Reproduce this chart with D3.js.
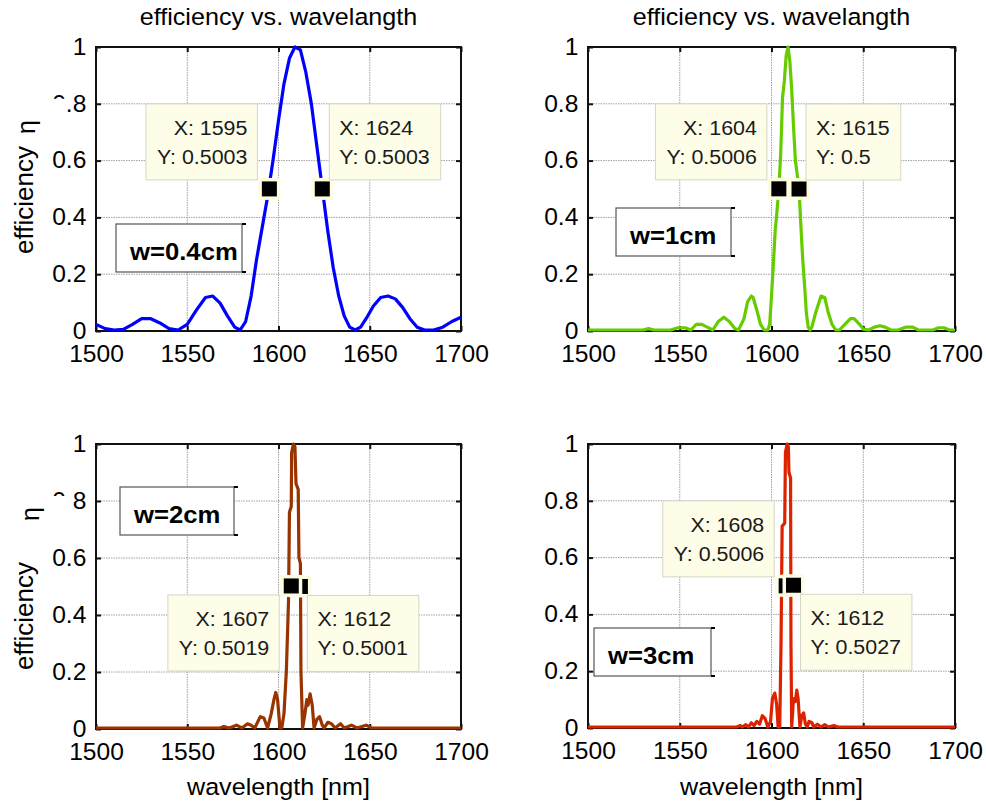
<!DOCTYPE html>
<html>
<head>
<meta charset="utf-8">
<script src="https://cdn.jsdelivr.net/npm/d3@7"></script>
<style>
  body { margin: 0; background: #fff; }
  text { font-family: "Liberation Sans", Arial, Helvetica, sans-serif; }
</style>
</head>
<body>
<svg id="mainsvg" width="986" height="805"></svg>
<script>
// ticks
const xTicks = [1500, 1550, 1600, 1650, 1700];
const yTicks = [0, 0.2, 0.4, 0.6, 0.8, 1];
const yTickLabels = ['0', '0.2', '0.4', '0.6', '0.8', '1'];

// w = 0.4cm (blue)
const wl04 = [1500,1505,1510,1515,1520,1525,1530,1535,1540,1545,1550,1555,1560,1564,1568,1572,1576,1579,1582,1585,
  1588,1591,1594,1597,1600,1603,1606,1609,1612,1615,1618,1621,1624,1627,1630,1633,1636,1639,1642,1645,
  1648,1652,1656,1660,1664,1668,1672,1676,1680,1685,1690,1695,1700];
const eff04 = [0.02,0.005,0,0.002,0.02,0.04,0.04,0.025,0.005,0,0.02,0.07,0.115,0.12,0.095,0.05,0.01,0,0.03,0.12,
  0.25,0.36,0.47,0.6,0.74,0.87,0.96,1.0,0.99,0.91,0.8,0.65,0.5,0.35,0.22,0.12,0.05,0.01,0,0.01,
  0.04,0.085,0.115,0.12,0.11,0.08,0.04,0.01,0,0,0.01,0.03,0.045];

// w = 1cm (green)
const wl1 = [1500,1530,1533,1536,1545,1549,1553,1556,1559,1562,1565,1568,1571,1574,1577,1580,1582,1585,1587,1589,
  1590,1592,1594,1596,1598,1599,1600,1601,1602,1603,1604,1605,1606,1607,1608,1609,1610,1611,1612,1613,
  1614,1615,1616,1617,1618,1619,1620,1621,1622,1624,1626,1627,1629,1631,1633,1635,1637,1640,1643,1645,
  1648,1650,1653,1656,1659,1662,1665,1669,1673,1677,1680,1688,1691,1694,1697,1700];
const eff1 = [0,0,0.005,0,0,0.008,0.008,0,0.02,0.02,0.01,0,0.03,0.045,0.03,0.005,0,0.04,0.1,0.12,
  0.115,0.07,0.02,0,0,0.02,0.12,0.23,0.35,0.42,0.5006,0.62,0.82,0.88,0.97,1.0,0.95,0.85,0.72,0.6,
  0.55,0.5,0.37,0.25,0.16,0.06,0.01,0,0.01,0.06,0.1,0.12,0.115,0.06,0.02,0,0,0.02,0.04,0.04,
  0.02,0.003,0,0.01,0.015,0.01,0,0,0.01,0.01,0,0,0.008,0.008,0,0];

// w = 2cm (brown)
const wl2 = [1500,1568,1570,1573,1577,1580,1583,1585,1587,1590,1592,1594,1596,1597.5,1598.5,1599.5,1600.8,1601.8,1603,1604.3,
  1605.5,1606,1607,1607.2,1608.2,1609,1609.6,1610.8,1611.2,1612,1612.3,1613.2,1614.5,1615.5,1616.2,1617.3,1618.5,1619.5,1621,1622.5,
  1624,1625,1627,1629,1631,1634,1636,1640,1643,1648,1651,1700];
const eff2 = [0,0,0.005,0,0.01,0,0.015,0.01,0,0.04,0.035,0,0.05,0.1,0.125,0.1,0,0,0.05,0.2,
  0.45,0.76,0.78,0.97,1.0,0.99,0.86,0.84,0.6,0.58,0.2,0,0.05,0.1,0.08,0.12,0.08,0,0.03,0.04,
  0.01,0,0.02,0.015,0,0.015,0,0.01,0,0.01,0,0];

// w = 3cm (red)
const wl3 = [1500,1581,1583,1584,1586,1587.5,1589,1590.5,1592,1593.5,1595,1596.5,1598,1599.5,1600.5,1601.8,1602.8,1603.6,1604.5,1605.2,
  1605.8,1607.2,1607.6,1608.5,1609.2,1609.5,1610.4,1610.6,1611,1612,1613,1613.8,1614.5,1615.5,1616.5,1617.5,1618.5,1619.5,1620.5,1622,
  1623,1625,1627,1629,1631,1634,1636,1700];
const eff3 = [0,0,0.005,0,0.008,0,0.015,0.005,0.02,0.01,0.04,0.03,0,0.02,0.1,0.12,0.08,0,0,0.3,
  0.71,0.72,0.97,1.0,0.99,0.9,0.88,0.3,0,0.1,0.09,0.13,0.1,0,0.04,0.05,0.01,0,0.02,0.015,
  0,0.01,0,0.008,0,0.005,0,0];

// data tips (listed in drawing order)
const tips04 = [{x: 1595, y: 0.5003}, {x: 1624, y: 0.5003}];
const tips1 = [{x: 1604, y: 0.5006}, {x: 1615, y: 0.5}];
const tips2 = [{x: 1612, y: 0.5001}, {x: 1607, y: 0.5019}];
const tips3 = [{x: 1608, y: 0.5006}, {x: 1612, y: 0.5027}];

const svg = d3.select('#mainsvg');
const SX = 1.07; // text looks a bit wide in the source picture

function stext(parent, x, y, str, size, anchor, weight) {
    return parent.append('text')
        .attr('transform', `translate(${x},${y}) scale(${SX},1)`)
        .attr('text-anchor', anchor || 'start')
        .style('font-size', size + 'px')
        .style('font-weight', weight || 'normal')
        .attr('fill', '#000')
        .text(str);
}

const panels = [
    {wl: wl04, eff: eff04, color: '#0000ff', name: 'w=0.4cm', tips: tips04, place: ['left-above', 'right-above'],
     left: 96, right: 461, top: 47, bottom: 331, title: true, xlabel: false,
     ylabel: {eff: 200, eta: 127, etaX: 35}, lg: [20, 177, 126], cover: true},
    {wl: wl1, eff: eff1, color: '#66cc00', name: 'w=1cm', tips: tips1, place: ['left-above', 'right-above'],
     left: 588, right: 955, top: 47, bottom: 331, title: true, xlabel: false,
     ylabel: null, lg: [28, 161, 115], cover: false},
    {wl: wl2, eff: eff2, color: '#993300', name: 'w=2cm', tips: tips2, place: ['right-below', 'left-below'],
     left: 96, right: 461, top: 444, bottom: 729, title: false, xlabel: true,
     ylabel: {eff: 616, eta: 514, etaX: 39}, lg: [24, 43, 114], cover: true},
    {wl: wl3, eff: eff3, color: '#dd2200', name: 'w=3cm', tips: tips3, place: ['left-above', 'right-below'],
     left: 588, right: 955, top: 444, bottom: 728, title: false, xlabel: true,
     ylabel: null, lg: [6, 184, 117], cover: false}
];

panels.forEach(p => {
    const g = svg.append('g');
    const x = d3.scaleLinear().domain([1500, 1700]).range([p.left, p.right]);
    const y = d3.scaleLinear().domain([0, 1]).range([p.bottom - 1, p.top]);
    const yT = d3.scaleLinear().domain([0, 1]).range([p.bottom, p.top]);

    // grid
    g.append('g').selectAll('line').data(xTicks.slice(1, -1)).join('line')
        .attr('x1', d => x(d)).attr('x2', d => x(d)).attr('y1', p.top).attr('y2', p.bottom)
        .attr('stroke', '#a0a0a0').attr('stroke-dasharray', '1.5,1');
    g.append('g').selectAll('line').data(yTicks.slice(1, -1)).join('line')
        .attr('y1', d => yT(d)).attr('y2', d => yT(d)).attr('x1', p.left).attr('x2', p.right)
        .attr('stroke', '#a0a0a0').attr('stroke-dasharray', '1.5,1');

    // frame
    g.append('rect').attr('x', p.left).attr('y', p.top)
        .attr('width', p.right - p.left).attr('height', p.bottom - p.top)
        .attr('fill', 'none').attr('stroke', '#111').attr('stroke-width', 2);

    // inward ticks on all four sides
    const tickAxes = [
        [d3.axisBottom(x).tickValues(xTicks), `translate(0,${p.bottom})`],
        [d3.axisTop(x).tickValues(xTicks), `translate(0,${p.top})`],
        [d3.axisLeft(yT).tickValues(yTicks), `translate(${p.left},0)`],
        [d3.axisRight(yT).tickValues(yTicks), `translate(${p.right},0)`]
    ];
    tickAxes.forEach(([ax, tr]) => {
        const a = g.append('g').attr('transform', tr)
            .call(ax.tickSize(-5).tickFormat(''));
        a.select('.domain').remove();
        a.selectAll('line').attr('stroke', '#111').attr('stroke-width', 2);
    });

    // tick labels
    const xa = g.append('g').attr('transform', `translate(0,${p.bottom})`)
        .call(d3.axisBottom(x).tickValues(xTicks).tickSize(0).tickPadding(15).tickFormat(d3.format('d')));
    xa.select('.domain').remove();
    xa.attr('font-family', null).attr('font-size', null);
    xa.selectAll('text').style('font-size', '23px').attr('fill', '#000').attr('transform', `scale(${SX},1)`);

    const ya = g.append('g').attr('transform', `translate(${p.left},0)`)
        .call(d3.axisLeft(yT).tickValues(yTicks).tickSize(0).tickPadding(9)
            .tickFormat((d, i) => yTickLabels[i]));
    ya.select('.domain').remove();
    ya.attr('font-family', null).attr('font-size', null);
    ya.selectAll('text').style('font-size', '23px').attr('fill', '#000').attr('transform', `scale(${SX},1)`);

    // the y-label box hides part of the 0.8 label on the left panels
    if (p.cover) {
        g.append('rect').attr('x', 48).attr('y', yT(0.8) - 5).attr('width', p.top < 100 ? 18 : 24).attr('height', 20)
            .attr('fill', '#fff');
    }

    // curve
    const pts = p.wl.map((w, i) => [w, p.eff[i]]);
    g.append('path').datum(pts)
        .attr('d', d3.line().x(d => x(d[0])).y(d => y(d[1])))
        .attr('fill', 'none').attr('stroke', p.color).attr('stroke-width', 3.2)
        .attr('stroke-linejoin', 'round');

    // data tip markers
    p.tips.forEach(t => {
        const mx = x(t.x), my = yT(t.y);
        g.append('rect').attr('x', mx - 11).attr('y', my - 11).attr('width', 22).attr('height', 22)
            .attr('fill', '#fdfbe0');
        g.append('rect').attr('x', mx - 7.5).attr('y', my - 7.5).attr('width', 15).attr('height', 15)
            .attr('fill', '#000');
    });

    // data tip boxes
    p.tips.forEach((t, i) => {
        const [side, pos] = p.place[i].split('-');
        const mx = x(t.x), my = yT(t.y);
        const tg = g.append('g');
        const box = tg.append('rect').attr('fill', '#fdfde8').attr('stroke', '#d6d6c8').attr('stroke-width', 1);
        const l1 = stext(tg, 0, 0, 'X: ' + t.x, 20, side === 'left' ? 'end' : 'start').attr('fill', '#1a1a1a');
        const l2 = stext(tg, 0, 0, 'Y: ' + t.y, 20, side === 'left' ? 'end' : 'start').attr('fill', '#1a1a1a');
        const tw = Math.max(l1.node().getComputedTextLength(), l2.node().getComputedTextLength()) * SX;
        const bw = tw + 21, bh = 76;
        const bx = side === 'left' ? mx - 12 - bw : mx + 7;
        const by = pos === 'above' ? my - 9 - bh : my + 9;
        box.attr('x', bx).attr('y', by).attr('width', bw).attr('height', bh);
        const tx = side === 'left' ? bx + bw - 10 : bx + 10;
        l1.attr('transform', `translate(${tx},${by + 31}) scale(${SX},1)`);
        l2.attr('transform', `translate(${tx},${by + 60}) scale(${SX},1)`);
    });

    // legend box
    const [lx, ly, lw] = p.lg;
    const lg = g.append('g').attr('transform', `translate(${p.left + lx},${p.top + ly})`);
    lg.append('rect').attr('width', lw).attr('height', 48)
        .attr('fill', '#fff').attr('stroke', '#555').attr('stroke-width', 1.2);
    lg.selectAll('line.corner').data([0, 48]).join('line').attr('class', 'corner')
        .attr('x1', lw).attr('x2', lw + 4).attr('y1', d => d).attr('y2', d => d)
        .attr('stroke', '#000').attr('stroke-width', 2);
    stext(lg, 14, 36, p.name, 24, 'start', 'bold');

    // titles and labels
    if (p.title) stext(svg, (p.left + p.right) / 2, 25, 'efficiency vs. wavelangth', 23.5, 'middle');
    if (p.xlabel) stext(svg, (p.left + p.right) / 2, 795, 'wavelength [nm]', 23.5, 'middle');
    if (p.ylabel) {
        svg.append('text').attr('transform', `translate(33,${p.ylabel.eff}) rotate(-90)`)
            .attr('text-anchor', 'middle').style('font-size', '26px').text('efficiency');
        svg.append('text').attr('transform', `translate(${p.ylabel.etaX},${p.ylabel.eta}) rotate(-90)`)
            .attr('text-anchor', 'middle').style('font-size', '25px').text('η');
    }
});
</script>
</body>
</html>
